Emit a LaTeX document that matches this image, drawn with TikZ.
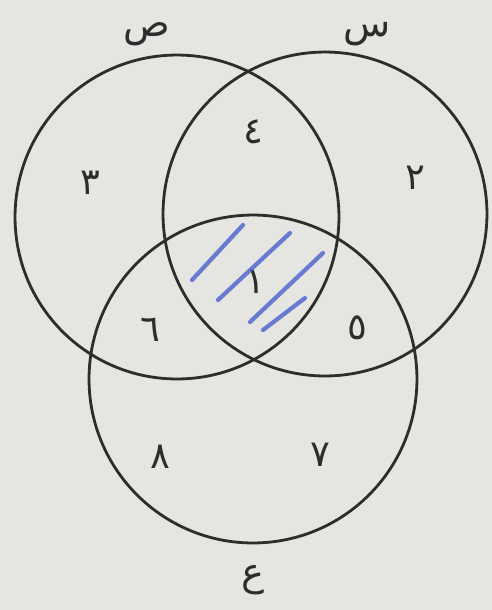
\documentclass[tikz,border=0pt]{standalone}
\usepackage{fontspec}
\newfontfamily\arabicfont[Script=Arabic]{DejaVu Sans}
\TeXXeTstate=1
\definecolor{fondo}{RGB}{229,230,226}
\definecolor{tinta}{RGB}{45,45,45}
\definecolor{azul}{RGB}{75,95,205}
\tikzset{
  conj/.style={draw=tinta, line width=1.6pt},
  num/.style={font=\arabicfont\fontsize{21}{25}\selectfont, text=tinta, inner sep=0pt},
  letra/.style={font=\arabicfont\fontsize{22}{26}\selectfont, text=tinta, inner sep=0pt},
  raya/.style={draw=azul, line width=2.4pt, line cap=round, opacity=.8}
}

\begin{document}
\begin{tikzpicture}[x=0.02cm, y=-0.02cm]
  \fill[fondo] (0,0) rectangle (492,610);
  \useasboundingbox (0,0) rectangle (492,610);

  % Conjuntos
  \coordinate (cS) at (177,217);
  \coordinate (cR) at (325,214);
  \coordinate (cB) at (253,379);
  \draw[conj] (cS) circle (3.24cm);
  \draw[conj] (cR) circle (3.24cm);
  \draw[conj] (cB) circle (3.28cm);

  % Nombres
  \node[letra] (lS) at (147,34) {\beginR ص\endR};
  \node[letra] (lR) at (367,34) {\beginR س\endR};
  \node[letra] (lB) at (253,580) {\beginR ع\endR};

  % Solo ص / solo س
  \node[num] (n3) at (90,183) {\beginR ٣\endR};
  \node[num] (n2) at (415,178) {\beginR ٢\endR};
  % ص y س
  \node[num] (n4) at (253,132) {\beginR ٤\endR};
  % Los tres
  \node[num] (n1) at (255,282) {\beginR ١\endR};
  % ص y ع / س y ع
  \node[num] (n6) at (150,330) {\beginR ٦\endR};
  \node[num] (n5) at (357,328) {\beginR ٥\endR};
  % Solo ع
  \node[num] (n8) at (160,457) {\beginR ٨\endR};
  \node[num] (n7) at (320,455) {\beginR ٧\endR};

  % Rayado
  \draw[raya] (192,280) -- (243,225);
  \draw[raya] (218,300) -- (290,233);
  \draw[raya] (250,322) -- (323,253);
  \draw[raya] (263,330) -- (305,298);
\end{tikzpicture}
\end{document}
